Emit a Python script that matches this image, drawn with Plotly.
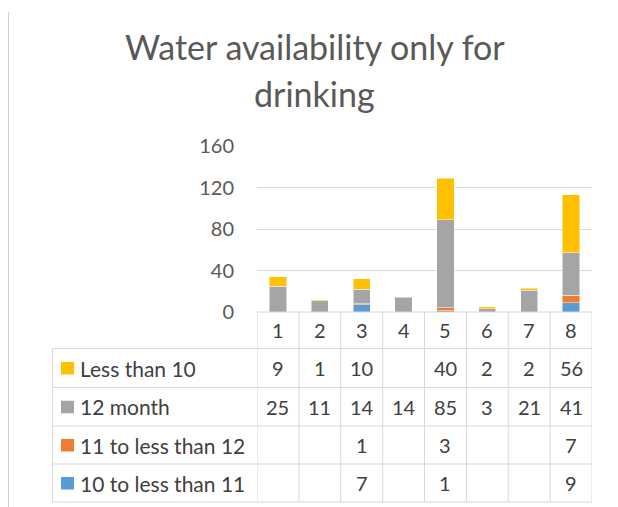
import plotly.graph_objects as go

categories = ["1", "2", "3", "4", "5", "6", "7", "8"]
less_than_10 = [9, 1, 10, None, 40, 2, 2, 56]
month_12 = [25, 11, 14, 14, 85, 3, 21, 41]
from_11_to_12 = [None, None, 1, None, 3, None, None, 7]
from_10_to_11 = [None, None, 7, None, 1, None, None, 9]
y_ticks = [0, 40, 80, 120, 160]

# stacking order bottom -> top
series = [
    ("10 to less than 11", from_10_to_11, "#5B9BD5"),
    ("11 to less than 12", from_11_to_12, "#ED7D31"),
    ("12 month", month_12, "#A5A5A5"),
    ("Less than 10", less_than_10, "#FFC000"),
]

FONT = "Lato"
TXT = "#404040"
GRID = "#D9D9D9"

# page has an 8px body margin, so the figure starts at (8, 8) in the window
OFF = 8
W, H = 618 - OFF, 507 - OFF
# plot area, given in window pixels
PL, PR, PT, PB = 257, 592, 146, 312
PW, PH = PR - PL, PB - PT


def xp(px):
    return (px - PL) / PW


def yp(py):
    return (PB - py) / PH


def label(x, y, text, size=20, color=TXT, xref="paper", xanchor="center"):
    return dict(x=x, y=y, xref=xref, yref="paper", text=text, showarrow=False,
                xanchor=xanchor, yanchor="middle", font=dict(size=size, color=color))


fig = go.Figure()
for name, vals, color in series:
    fig.add_trace(go.Bar(
        x=categories, y=vals, name=name, width=0.41,
        marker=dict(color=color, line=dict(color="rgba(255,255,255,0.6)", width=0.8)),
    ))

shapes = []
annotations = []

# data table below the chart
row_edges = [348.5, 387.5, 426, 464, 502]
table_left = 52.5
line = dict(color=GRID, width=1)
shapes.append(dict(type="line", xref="paper", yref="paper", x0=0, x1=1,
                   y0=yp(PB), y1=yp(PB), line=line))
for e in row_edges:
    shapes.append(dict(type="line", xref="paper", yref="paper", x0=xp(table_left), x1=1,
                       y0=yp(e), y1=yp(e), line=line))
shapes.append(dict(type="line", xref="paper", yref="paper", x0=xp(table_left), x1=xp(table_left),
                   y0=yp(row_edges[0]), y1=yp(row_edges[-1]), line=line))
for i in range(len(categories) + 1):
    shapes.append(dict(type="line", xref="x", yref="paper", x0=i - 0.5, x1=i - 0.5,
                       y0=yp(PB), y1=yp(row_edges[-1]), line=line))

# header with category numbers
for i, c in enumerate(categories):
    annotations.append(label(i, yp((PB + row_edges[0]) / 2), c, xref="x"))

# rows (top row = last stacked series)
for r, (name, vals, color) in enumerate(reversed(series)):
    yc = (row_edges[r] + row_edges[r + 1]) / 2
    shapes.append(dict(type="rect", xref="paper", yref="paper",
                       x0=xp(61), x1=xp(74), y0=yp(yc - 6), y1=yp(yc + 6.5),
                       fillcolor=color, line=dict(width=0)))
    annotations.append(label(xp(78), yp(yc), name, size=21, xanchor="left"))
    for i, v in enumerate(vals):
        if v is None:
            continue
        annotations.append(label(i, yp(yc), str(v), xref="x"))

# title in two lines
annotations.append(label(xp(315), yp(46), "Water availability only for", size=34, color="#595959"))
annotations.append(label(xp(314), yp(93), "drinking", size=34, color="#595959"))

# sheet border at the left
shapes.append(dict(type="line", xref="paper", yref="paper", x0=xp(8), x1=xp(8),
                   y0=yp(12), y1=yp(507), line=dict(color="#D0D0D0", width=2)))

fig.update_layout(
    width=W, height=H,
    barmode="stack",
    showlegend=False,
    font=dict(family=FONT, color=TXT),
    plot_bgcolor="white",
    paper_bgcolor="white",
    margin=dict(l=PL - OFF, r=618 - PR, t=PT - OFF, b=507 - PB, pad=0),
    xaxis=dict(type="category", range=[-0.5, 7.5], showticklabels=False,
               showgrid=False, zeroline=False, showline=False),
    yaxis=dict(range=[0, 160], tickvals=y_ticks, showgrid=True, gridcolor=GRID, gridwidth=1,
               zeroline=False, showline=False, ticklabelstandoff=22,
               tickfont=dict(size=20, color="#595959")),
    shapes=shapes,
    annotations=annotations,
)

fig.write_html("out.html")
